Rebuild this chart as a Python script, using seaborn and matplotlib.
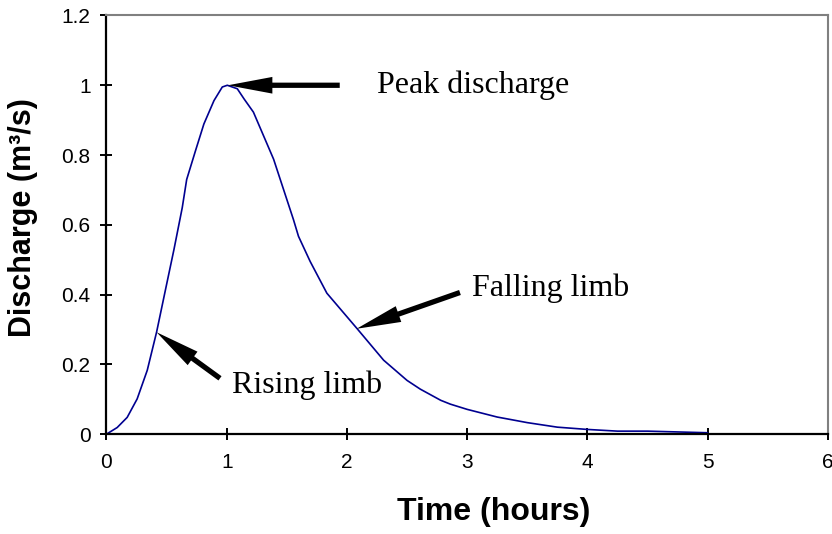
import numpy as np
import pandas as pd
import seaborn as sns
import matplotlib
matplotlib.use("Agg")
import matplotlib.pyplot as plt

# hydrograph
time_h = [0.0, 0.089, 0.172, 0.255, 0.339, 0.417, 0.49, 0.561, 0.63, 0.667,
          0.74, 0.81, 0.894, 0.963, 1.005, 1.088, 1.144, 1.222, 1.39, 1.555,
          1.597, 1.694, 1.833, 2.083, 2.305, 2.5, 2.61, 2.78, 2.86, 3.0,
          3.25, 3.36, 3.5, 3.75, 4.0, 4.25, 4.5, 5.0]
discharge = [0.0, 0.019, 0.048, 0.101, 0.183, 0.293, 0.413, 0.529, 0.649, 0.73,
             0.812, 0.889, 0.956, 0.995, 1.0, 0.99, 0.961, 0.923, 0.788, 0.615,
             0.567, 0.495, 0.404, 0.303, 0.212, 0.154, 0.129, 0.097, 0.086, 0.071,
             0.049, 0.042, 0.033, 0.020, 0.0135, 0.0086, 0.0086, 0.004]

x_ticks = [0, 1, 2, 3, 4, 5, 6]
y_ticks = [0, 0.2, 0.4, 0.6, 0.8, 1.0, 1.2]
y_tick_labels = ["0", "0.2", "0.4", "0.6", "0.8", "1", "1.2"]

# annotations: text, text position, arrow tail, arrow tip
labels = ["Peak discharge", "Falling limb", "Rising limb"]
label_xy = [(2.25, 1.0), (3.04, 0.418), (1.04, 0.141)]
arrow_tail = [(1.94, 1.0), (2.94, 0.406), (0.944, 0.160)]
arrow_head = [(1.01, 1.0), (2.08, 0.302), (0.417, 0.292)]

df = pd.DataFrame({"Time": time_h, "Discharge": discharge})

sns.set_style("white")
plt.rcParams["font.family"] = ["Liberation Sans", "DejaVu Sans"]
plt.rcParams["text.color"] = "black"
plt.rcParams["axes.labelcolor"] = "black"
plt.rcParams["xtick.color"] = "black"
plt.rcParams["ytick.color"] = "black"

fig = plt.figure(figsize=(8.32, 5.34), dpi=100)
ax = fig.add_axes([0.128, 0.187, 0.867, 0.784])

sns.lineplot(data=df, x="Time", y="Discharge", color="#000090", lw=1.2, ax=ax)

ax.set_xlim(0, 6)
ax.set_ylim(0, 1.2)
ax.set_xticks(x_ticks)
ax.set_xticklabels([str(t) for t in x_ticks])
ax.set_yticks(y_ticks)
ax.set_yticklabels(y_tick_labels)
ax.tick_params(axis="both", direction="inout", length=9, width=1.4, color="black",
               labelsize=15, pad=7, bottom=True, left=True)
ax.tick_params(axis="x", pad=9)

for side in ["left", "bottom"]:
    ax.spines[side].set_color("black")
    ax.spines[side].set_linewidth(1.6)
for side in ["top", "right"]:
    ax.spines[side].set_color("#808080")
    ax.spines[side].set_linewidth(1.5)

ax.set_xlabel("Time (hours)", fontsize=23, fontweight="bold")
ax.set_ylabel("Discharge (m³/s)", fontsize=22, fontweight="bold")
ax.xaxis.set_label_coords(0.537, -0.15)
ax.yaxis.set_label_coords(-0.095, 0.517)

# arrows and their labels
for txt, pos, tail, head in zip(labels, label_xy, arrow_tail, arrow_head):
    ax.annotate("", xy=head, xytext=tail,
                arrowprops=dict(arrowstyle="simple,head_length=3.2,head_width=1.2,tail_width=0.38",
                                mutation_scale=10, lw=0, color="black",
                                shrinkA=0, shrinkB=0))
    ax.text(pos[0], pos[1], txt, family=["Liberation Serif", "DejaVu Serif"],
            fontsize=23, ha="left", va="center", color="black")

fig.savefig("out.png", dpi=100)
